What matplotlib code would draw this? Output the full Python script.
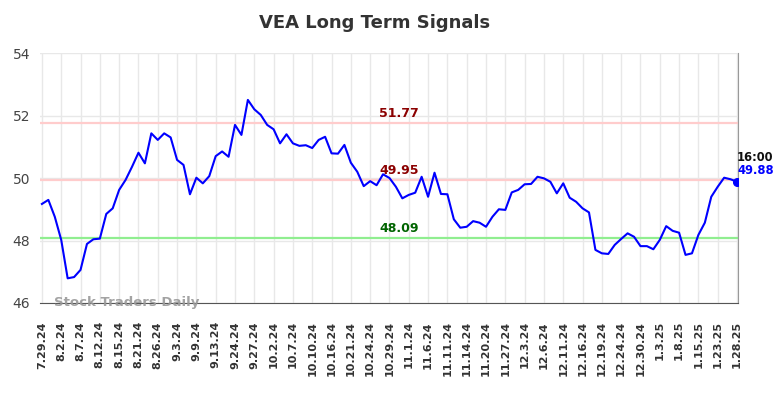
import matplotlib
matplotlib.use("Agg")
import matplotlib.pyplot as plt

# closing prices, one every trading day shown
prices = [49.17, 49.30, 48.76, 48.02, 46.79, 46.83, 47.06, 47.89, 48.04, 48.06,
          48.85, 49.03, 49.62, 49.94, 50.36, 50.81, 50.47, 51.43, 51.22, 51.43,
          51.30, 50.58, 50.42, 49.48, 50.01, 49.83, 50.06, 50.70, 50.85, 50.68,
          51.70, 51.38, 52.50, 52.20, 52.02, 51.70, 51.56, 51.11, 51.40, 51.11,
          51.03, 51.05, 50.96, 51.22, 51.32, 50.79, 50.78, 51.06, 50.49, 50.20,
          49.74, 49.90, 49.77, 50.12, 50.00, 49.72, 49.35, 49.46, 49.53, 50.04,
          49.40, 50.17, 49.49, 49.48, 48.68, 48.41, 48.44, 48.62, 48.57, 48.44,
          48.76, 49.00, 48.98, 49.54, 49.62, 49.80, 49.81, 50.04, 49.99, 49.88,
          49.51, 49.83, 49.37, 49.24, 49.03, 48.90, 47.70, 47.59, 47.57, 47.86,
          48.05, 48.23, 48.12, 47.82, 47.82, 47.72, 48.02, 48.46, 48.31, 48.25,
          47.54, 47.59, 48.18, 48.57, 49.40, 49.72, 50.01, 49.96, 49.88]

date_labels = ["7.29.24", "8.2.24", "8.7.24", "8.12.24", "8.15.24", "8.21.24",
               "8.26.24", "9.3.24", "9.9.24", "9.13.24", "9.24.24", "9.27.24",
               "10.2.24", "10.7.24", "10.10.24", "10.16.24", "10.21.24", "10.24.24",
               "10.29.24", "11.1.24", "11.6.24", "11.11.24", "11.14.24", "11.20.24",
               "11.27.24", "12.3.24", "12.6.24", "12.11.24", "12.16.24", "12.19.24",
               "12.24.24", "12.30.24", "1.3.25", "1.8.25", "1.15.25", "1.23.25",
               "1.28.25"]

upper = 51.77
middle = 49.95
lower = 48.09
last_time = "16:00"

x = list(range(len(prices)))
tick_pos = list(range(0, len(prices), 3))

fig = plt.figure(figsize=(7.84, 3.98), dpi=100)
ax = fig.add_axes([0.051, 0.2387, 0.8903, 0.628])

# support / resistance levels
ax.axhline(upper, color="#ffcccc", lw=1.6, zorder=1)
ax.axhline(middle, color="#ffcccc", lw=1.6, zorder=1)
ax.axhline(lower, color="#90ee90", lw=1.6, zorder=1)

ax.plot(x, prices, color="#0000ff", lw=1.5, zorder=3)
ax.plot(x[-1], prices[-1], "o", color="#0000ff", ms=5.5, zorder=4)

ax.set_xlim(-0.3, len(prices) - 1 + 0.15)
ax.set_ylim(46, 54)
ax.set_yticks([46, 48, 50, 52, 54])
ax.set_xticks(tick_pos)
ax.set_xticklabels(date_labels, rotation=90, fontsize=8, fontweight="bold", color="#333333")
ax.tick_params(axis="x", length=0, pad=13)
ax.tick_params(axis="y", length=0, pad=7, labelsize=10, labelcolor="#444444")
ax.grid(True, color="#e8e8e8", lw=1, zorder=0)
ax.set_axisbelow(True)

for side in ["top", "left"]:
    ax.spines[side].set_visible(False)
ax.spines["bottom"].set_color("#555555")
ax.spines["right"].set_color("#999999")

xmid = 55.5
ax.text(xmid, upper + 0.08, "%.2f" % upper, color="#8b0000", fontsize=9,
        fontweight="bold", ha="center", va="bottom")
ax.text(xmid, middle + 0.08, "%.2f" % middle, color="#8b0000", fontsize=9,
        fontweight="bold", ha="center", va="bottom")
ax.text(xmid, lower + 0.08, "%.2f" % lower, color="#006400", fontsize=9,
        fontweight="bold", ha="center", va="bottom")

ax.text(x[-1], prices[-1] + 0.78, last_time, color="#111111", fontsize=8.3,
        fontweight="bold", ha="left", va="center")
ax.text(x[-1], prices[-1] + 0.35, "%.2f" % prices[-1], color="#0000ff", fontsize=8.3,
        fontweight="bold", ha="left", va="center")

ax.text(0.02, 0.0, "Stock Traders Daily", transform=ax.transAxes, color="#999999",
        fontsize=9.5, fontweight="bold", ha="left", va="center", alpha=0.9)

fig.suptitle("VEA Long Term Signals", x=0.478, y=0.965, fontsize=13,
             fontweight="bold", color="#333333")

fig.savefig("out.png", dpi=100)
